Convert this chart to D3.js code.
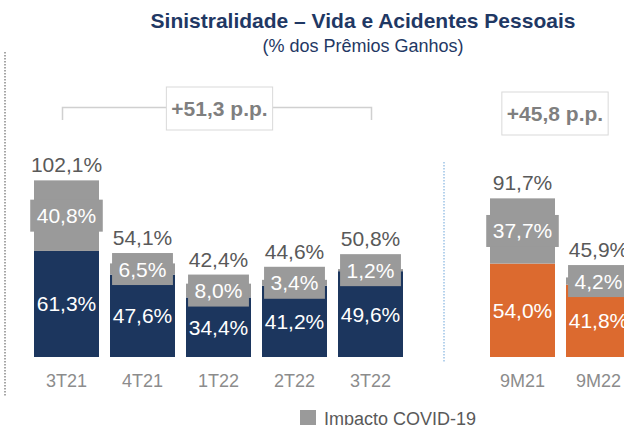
<!DOCTYPE html>
<html>
<head>
<meta charset="utf-8">
<script src="https://cdn.jsdelivr.net/npm/d3@7"></script>
<style>
  html, body { margin: 0; padding: 0; background: #fff; }
  svg { display: block; font-family: "Liberation Sans", Arial, sans-serif; }
</style>
</head>
<body>
<svg id="chart" width="624" height="425"></svg>
<script>
// ---- data ----
const quarters = ["3T21", "4T21", "1T22", "2T22", "3T22"];
const ytd = ["9M21", "9M22"];
const baseValues = [61.3, 47.6, 34.4, 41.2, 49.6, 54.0, 41.8];
const covidValues = [40.8, 6.5, 8.0, 3.4, 1.2, 37.7, 4.2];
const totalValues = [102.1, 54.1, 42.4, 44.6, 50.8, 91.7, 45.9];
const deltaQuarters = "+51,3 p.p.";
const deltaYtd = "+45,8 p.p.";
const titleText = "Sinistralidade – Vida e Acidentes Pessoais";
const subtitleText = "(% dos Prêmios Ganhos)";
const legendText = "Impacto COVID-19";

const categories = quarters.concat(ytd);
const NAVY = "#1c365e", ORANGE = "#dc6a2f", GRAY = "#9a9a9a";

const fmt = v => v.toFixed(1).replace(".", ",") + "%";

const svg = d3.select("#chart");

// scales
const slots = quarters.concat(["_gap"], ytd);
const x = d3.scaleBand().domain(slots).range([28.5, 28.5 + 8 * 76])
  .paddingInner(11 / 76).paddingOuter(11 / 152);
const y = d3.scaleLinear().domain([0, 100]).range([357, 184]);
const bw = x.bandwidth();

// title
svg.append("text").attr("x", 363).attr("y", 28).attr("text-anchor", "middle")
  .attr("font-size", 21).attr("font-weight", "bold").attr("fill", "#1f3864").text(titleText);
svg.append("text").attr("x", 363).attr("y", 52).attr("text-anchor", "middle")
  .attr("font-size", 18).attr("fill", "#1f3864").text(subtitleText);

// left dotted line
svg.append("line").attr("x1", 5).attr("x2", 5).attr("y1", 52).attr("y2", 397)
  .attr("stroke", "#a6a6a6").attr("stroke-width", 2).attr("stroke-dasharray", "1.5,1.5");

// separator
svg.append("line").attr("x1", 444).attr("x2", 444).attr("y1", 162).attr("y2", 363)
  .attr("stroke", "#9dc3e6").attr("stroke-width", 1.5).attr("stroke-dasharray", "1.5,1.5");

// bars
const data = categories.map((c, i) => ({
  cat: c, base: baseValues[i], covid: covidValues[i], total: totalValues[i],
  color: ytd.includes(c) ? ORANGE : NAVY
}));

const g = svg.append("g");
data.forEach(d => {
  const x0 = x(d.cat);
  const cx = x0 + bw / 2;
  // base segment
  g.append("rect").attr("x", x0).attr("width", bw)
    .attr("y", y(d.base)).attr("height", y(0) - y(d.base)).attr("fill", d.color);
  // covid segment
  const top = y(d.base + d.covid);
  g.append("rect").attr("x", x0).attr("width", bw)
    .attr("y", top).attr("height", y(d.base) - top).attr("fill", GRAY);
  // base label
  g.append("text").attr("x", cx).attr("y", (y(d.base) + y(0)) / 2 + 7.5)
    .attr("text-anchor", "middle").attr("font-size", 21).attr("fill", "#fff").text(fmt(d.base));
  // covid label box
  const midC = (top + y(d.base)) / 2;
  const t = g.append("text").attr("x", cx).attr("y", midC + 7.5)
    .attr("text-anchor", "middle").attr("font-size", 21).attr("fill", "#fff").text(fmt(d.covid));
  const tw = t.node().getComputedTextLength();
  const boxW = tw + 13, boxH = 32;
  g.insert("rect", () => t.node()).attr("x", cx - boxW / 2).attr("y", midC - boxH / 2)
    .attr("width", boxW).attr("height", boxH).attr("fill", GRAY);
  // total label
  const upper = Math.min(top, midC - boxH / 2);
  g.append("text").attr("x", cx).attr("y", upper - 8)
    .attr("text-anchor", "middle").attr("font-size", 21).attr("fill", "#595959").text(fmt(d.total));
  // category label
  g.append("text").attr("x", cx).attr("y", 387)
    .attr("text-anchor", "middle").attr("font-size", 18).attr("fill", "#8c8c8c").text(d.cat);
});

// bracket for quarters
const bx1 = x(quarters[0]) + bw / 2 - 4;
const bx2 = x(quarters[quarters.length - 1]) + bw / 2 + 1;
svg.append("path")
  .attr("d", `M${bx1},120 V107.5 H${bx2} V120`)
  .attr("fill", "none").attr("stroke", "#d0d0d0").attr("stroke-width", 1.5);

function deltaBox(cx, cy, label) {
  const t = svg.append("text").attr("x", cx).attr("y", cy + 7.5).attr("text-anchor", "middle")
    .attr("font-size", 21).attr("font-weight", "bold").attr("fill", "#7f7f7f").text(label);
  const w = t.node().getComputedTextLength() + 10;
  svg.insert("rect", () => t.node()).attr("x", cx - w / 2).attr("y", cy - 21.5)
    .attr("width", w).attr("height", 43).attr("fill", "#fff")
    .attr("stroke", "#d9d9d9").attr("stroke-width", 1);
}
deltaBox(219.5, 108.5, deltaQuarters);
deltaBox(555, 113.5, deltaYtd);

// legend
svg.append("rect").attr("x", 300).attr("y", 410).attr("width", 16).attr("height", 16).attr("fill", GRAY);
svg.append("text").attr("x", 324).attr("y", 425).attr("font-size", 18).attr("fill", "#595959").text(legendText);
</script>
</body>
</html>
